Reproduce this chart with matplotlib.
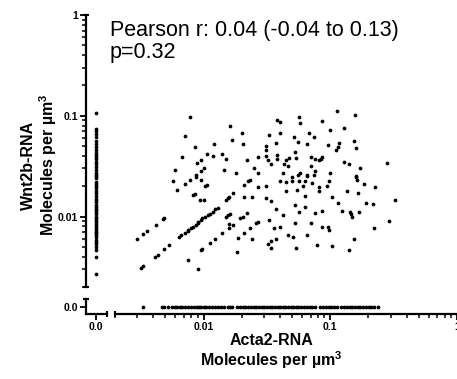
import numpy as np
import matplotlib
matplotlib.use('Agg')
import matplotlib.pyplot as plt
from matplotlib.ticker import FixedLocator, FixedFormatter, LogLocator, NullFormatter, NullLocator

plt.rcParams['font.family'] = ['Liberation Sans', 'DejaVu Sans']
plt.rcParams['font.weight'] = 'bold'
plt.rcParams['mathtext.fontset'] = 'custom'
plt.rcParams['mathtext.rm'] = 'Liberation Sans:bold'
plt.rcParams['mathtext.bf'] = 'Liberation Sans:bold'

# cells with both transcripts detected (molecules per um^3)
acta2 = [
    # upper cloud
    0.0078, 0.0072, 0.0085, 0.012, 0.0067, 0.0106, 0.0118, 0.0141, 0.0095, 0.0088,
    0.0059, 0.010, 0.0095, 0.0087, 0.0146, 0.0149, 0.0163, 0.020, 0.0169, 0.0203,
    0.033, 0.038, 0.040, 0.057, 0.058, 0.086, 0.040, 0.037, 0.031, 0.031,
    0.052, 0.056, 0.065, 0.068, 0.075, 0.053, 0.038, 0.038, 0.031, 0.032,
    0.034, 0.027, 0.022, 0.047, 0.045, 0.043, 0.046, 0.054, 0.070, 0.076,
    0.081, 0.086, 0.085, 0.071, 0.058, 0.056, 0.066, 0.076, 0.074, 0.018,
    0.025, 0.027, 0.042, 0.1135, 0.157, 0.100, 0.129, 0.096, 0.118, 0.154,
    0.116, 0.111, 0.160, 0.129, 0.141, 0.172, 0.281, 0.100, 0.160,
    # middle
    0.021, 0.0226, 0.0234, 0.027, 0.031, 0.040, 0.045, 0.050, 0.050, 0.057,
    0.063, 0.065, 0.072, 0.081, 0.082, 0.045, 0.055, 0.061, 0.0172, 0.016,
    0.0155, 0.0149, 0.021, 0.024, 0.031, 0.034, 0.037, 0.063, 0.053, 0.057,
    0.063, 0.076, 0.086, 0.0149, 0.0157, 0.0163, 0.0195, 0.0203, 0.022, 0.016,
    0.0172, 0.027, 0.026, 0.0234, 0.033, 0.036, 0.040, 0.042, 0.053, 0.070,
    0.086, 0.0188, 0.024, 0.021, 0.037, 0.034, 0.0325, 0.034, 0.046, 0.051,
    0.066, 0.054, 0.079, 0.0185,
    # right
    0.098, 0.094, 0.160, 0.163, 0.185, 0.226, 0.136, 0.166, 0.104, 0.115,
    0.192, 0.218, 0.325, 0.124, 0.143, 0.146, 0.149, 0.169, 0.292, 0.096,
    0.098, 0.222, 0.154, 0.104, 0.141,
    # left, incl. diagonals
    0.0057, 0.0071, 0.0078, 0.0087, 0.0095, 0.0062, 0.0083, 0.0085, 0.0102, 0.0106,
    0.0093, 0.010, 0.0048, 0.0049, 0.0042, 0.0036, 0.0033, 0.0030, 0.0064, 0.0066,
    0.0071, 0.0075, 0.0076, 0.0080, 0.0083, 0.0087, 0.0090, 0.0091, 0.0095, 0.0098,
    0.0102, 0.0108, 0.0112, 0.0118, 0.0122, 0.0129, 0.0032, 0.0033, 0.0041, 0.0044,
    0.0049, 0.0053, 0.0075, 0.0091, 0.0095, 0.0098, 0.0112, 0.0122, 0.0141, 0.016,
]
wnt2b = [
    # upper cloud
    0.098, 0.063, 0.049, 0.052, 0.039, 0.042, 0.040, 0.042, 0.036, 0.034,
    0.029, 0.030, 0.028, 0.026, 0.029, 0.037, 0.080, 0.068, 0.058, 0.052,
    0.065, 0.091, 0.087, 0.098, 0.085, 0.089, 0.068, 0.054, 0.050, 0.046,
    0.062, 0.055, 0.052, 0.068, 0.061, 0.044, 0.041, 0.037, 0.040, 0.036,
    0.033, 0.039, 0.036, 0.038, 0.036, 0.033, 0.032, 0.038, 0.039, 0.037,
    0.036, 0.039, 0.037, 0.032, 0.027, 0.026, 0.026, 0.028, 0.026, 0.027,
    0.030, 0.027, 0.027, 0.112, 0.102, 0.073, 0.076, 0.051, 0.054, 0.056,
    0.049, 0.046, 0.048, 0.035, 0.033, 0.030, 0.034, 0.027, 0.025,
    # middle
    0.0206, 0.0226, 0.0231, 0.0197, 0.020, 0.0226, 0.022, 0.0247, 0.0226, 0.0226,
    0.0226, 0.0253, 0.0216, 0.0197, 0.018, 0.018, 0.0184, 0.020, 0.0172, 0.0157,
    0.0153, 0.0146, 0.0157, 0.0157, 0.0153, 0.0143, 0.0119, 0.016, 0.013, 0.0111,
    0.0124, 0.0108, 0.0113, 0.0099, 0.0104, 0.0106, 0.0097, 0.0099, 0.0108, 0.0084,
    0.0083, 0.0089, 0.0087, 0.0077, 0.0093, 0.0077, 0.0079, 0.0103, 0.0087, 0.0087,
    0.0079, 0.0061, 0.0060, 0.0068, 0.0060, 0.0057, 0.0053, 0.0049, 0.0065, 0.0063,
    0.0065, 0.0049, 0.0052, 0.0045,
    # right
    0.0226, 0.020, 0.0247, 0.0231, 0.021, 0.0197, 0.018, 0.0172, 0.0157, 0.0137,
    0.0137, 0.0133, 0.0146, 0.0113, 0.0111, 0.0106, 0.0099, 0.0111, 0.0090, 0.0079,
    0.0073, 0.0077, 0.0060, 0.0051, 0.0047,
    # left, incl. diagonals
    0.0226, 0.021, 0.0231, 0.0247, 0.0231, 0.0184, 0.0164, 0.0168, 0.020, 0.0206,
    0.0146, 0.0146, 0.0095, 0.0097, 0.0082, 0.0072, 0.0067, 0.0060, 0.0063, 0.0066,
    0.0069, 0.0072, 0.0074, 0.0077, 0.0079, 0.0082, 0.0086, 0.0088, 0.0092, 0.0097,
    0.0099, 0.0104, 0.0106, 0.0111, 0.0119, 0.0122, 0.0031, 0.0032, 0.0040, 0.0042,
    0.0048, 0.0052, 0.0037, 0.0030, 0.0047, 0.0048, 0.0055, 0.0060, 0.0068, 0.0077,
]

# cells with Acta2 = 0
wnt2b_noActa2 = [
    0.107, 0.074, 0.070, 0.066, 0.061, 0.056, 0.052, 0.049, 0.046, 0.043,
    0.041, 0.039, 0.037, 0.035, 0.033, 0.031, 0.029, 0.027, 0.026, 0.025,
    0.024, 0.022, 0.021, 0.020, 0.019, 0.018, 0.017, 0.016, 0.015, 0.0145,
    0.014, 0.013, 0.0125, 0.012, 0.0115, 0.011, 0.0105, 0.010, 0.0096, 0.0092,
    0.0088, 0.0084, 0.0080, 0.0077, 0.0074, 0.0071, 0.0068, 0.0065, 0.0062, 0.0059,
    0.0056, 0.0053, 0.0050, 0.0047, 0.0040, 0.0027,
]

# cells with Wnt2b = 0
acta2_noWnt2b = [
    0.0033, 0.0047, 0.0049, 0.0052, 0.0056, 0.0059, 0.0062, 0.0065, 0.0068, 0.0072,
    0.0076, 0.0080, 0.0084, 0.0088, 0.0092, 0.0096, 0.0100, 0.0104, 0.0111, 0.0117,
    0.0123, 0.0130, 0.0137, 0.0144, 0.0155, 0.0162, 0.0169, 0.0185, 0.0194, 0.0204,
    0.0214, 0.0225, 0.0236, 0.0248, 0.026, 0.0273, 0.0287, 0.030, 0.0316, 0.0332,
    0.0349, 0.0366, 0.0385, 0.040, 0.042, 0.044, 0.046, 0.049, 0.051, 0.054,
    0.056, 0.059, 0.062, 0.065, 0.069, 0.072, 0.076, 0.083, 0.087, 0.092,
    0.097, 0.102, 0.107, 0.113, 0.122, 0.128, 0.135, 0.142, 0.149, 0.157,
    0.165, 0.173, 0.182, 0.191, 0.201, 0.211, 0.222, 0.239,
]

majorTicks = [0.01, 0.1, 1]
majorLabels = ['0.01', '0.1', '1']
statsText = 'Pearson r: 0.04 (-0.04 to 0.13)\np=0.32'

W, H = 457, 379
fig = plt.figure(figsize=(W / 100, H / 100), dpi=100)

def box(x0, y0, x1, y1):
    # pixel box (top-left origin) -> figure fraction
    return [x0 / W, 1 - y1 / H, (x1 - x0) / W, (y1 - y0) / H]

ax_m = fig.add_axes(box(115, 15, 457, 287))
ax_l = fig.add_axes(box(86, 15, 107, 287))
ax_b = fig.add_axes(box(115, 299, 457, 314))
ax_c = fig.add_axes(box(86, 299, 107, 314))

ylo, yhi = 0.002, 1.0
xlo, xhi = 0.002, 1.0
zx = (-1, 1.1)
zy = (-1, 1.14)

dot = dict(ls='none', marker='o', ms=2.7, mew=0, color='black', clip_on=False)

ax_m.plot(acta2, wnt2b, **dot)
ax_m.set_xscale('log')
ax_m.set_yscale('log')
ax_m.set_xlim(xlo, xhi)
ax_m.set_ylim(ylo, yhi)
ax_m.axis('off')

ax_l.plot(np.zeros(len(wnt2b_noActa2)), wnt2b_noActa2, **dot)
ax_l.set_yscale('log')
ax_l.set_ylim(ylo, yhi)
ax_l.set_xlim(*zx)

ax_b.plot(acta2_noWnt2b, np.zeros(len(acta2_noWnt2b)), **dot)
ax_b.set_xscale('log')
ax_b.set_xlim(xlo, xhi)
ax_b.set_ylim(*zy)

ax_c.set_xlim(*zx)
ax_c.set_ylim(*zy)

for ax in (ax_l, ax_b, ax_c):
    ax.patch.set_visible(False)
    for s in ax.spines.values():
        s.set_visible(False)
        s.set_linewidth(1.6)
    ax.tick_params(which='major', length=4.3, width=1.3, labelsize=7.5, pad=1.5)
    ax.tick_params(which='minor', length=2.7, width=1.1)

ax_l.spines['left'].set_visible(True)
ax_l.xaxis.set_major_locator(NullLocator())
ax_l.yaxis.set_major_locator(FixedLocator(majorTicks))
ax_l.yaxis.set_major_formatter(FixedFormatter(majorLabels))
ax_l.yaxis.set_minor_locator(LogLocator(base=10, subs=np.arange(2, 10)))
ax_l.yaxis.set_minor_formatter(NullFormatter())

ax_b.spines['bottom'].set_visible(True)
ax_b.yaxis.set_major_locator(NullLocator())
ax_b.xaxis.set_major_locator(FixedLocator(majorTicks))
ax_b.xaxis.set_major_formatter(FixedFormatter(majorLabels))
ax_b.xaxis.set_minor_locator(LogLocator(base=10, subs=np.arange(2, 10)))
ax_b.xaxis.set_minor_formatter(NullFormatter())

ax_c.spines['left'].set_visible(True)
ax_c.spines['bottom'].set_visible(True)
ax_c.set_xticks([0])
ax_c.set_xticklabels(['0.0'])
ax_c.set_yticks([0])
ax_c.set_yticklabels(['0.0'])

# end caps on the broken axis segments
cap = dict(color='black', mew=1.5, ms=5, clip_on=False, ls='none')
ax_l.plot([0, 0], [0, 1], marker='_', transform=ax_l.transAxes, **cap)
ax_c.plot([0], [1], marker='_', transform=ax_c.transAxes, **cap)
ax_c.plot([1], [0], marker='|', transform=ax_c.transAxes, **cap)
ax_b.plot([0], [0], marker='|', transform=ax_b.transAxes, **cap)

fig.text(40 / W, 1 - 165 / H, 'Wnt2b-RNA\nMolecules per µm$^{3}$', rotation=90,
         ha='center', va='center', multialignment='center', fontsize=11.5,
         fontweight='bold', linespacing=1.1)
fig.text(271 / W, 1 - 352 / H, 'Acta2-RNA\nMolecules per µm$^{3}$',
         ha='center', va='center', multialignment='center', fontsize=11.5,
         fontweight='bold', linespacing=1.1)
fig.text(110 / W, 1 - 20 / H, statsText, ha='left', va='top', fontsize=15.5,
         fontweight='normal', linespacing=1.05)

fig.savefig('out.png', dpi=100)
